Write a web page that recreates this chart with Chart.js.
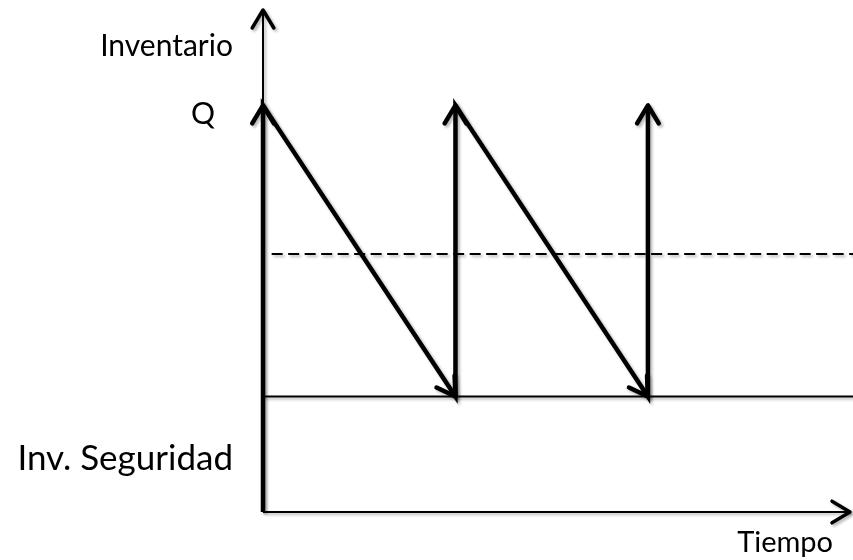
<!DOCTYPE html>
<html>
<head>
<meta charset="utf-8">
<script src="https://cdn.jsdelivr.net/npm/chart.js@4"></script>
<style>
  body { margin: 0; background: #fff; }
</style>
</head>
<body>
<canvas id="inventarioChart" width="853" height="560"></canvas>
<script>
// Niveles de inventario (unidades arbitrarias, eje de 0 a 100)
const nivelQ = 81;
const puntoReorden = 51.4;
const invSeguridad = 23;
const topeEje = 100;

// Tiempo (un ciclo = 1)
const finTiempo = 3.05;
const finLineas = 3.07;

// Diente de sierra: pedido en t=0, 1, 2
const sierraX = [0, 0, 1, 1, 2, 2];
const sierraY = [0, nivelQ, invSeguridad, nivelQ, invSeguridad, nivelQ];

// Textos
const etiquetas = [
    { texto: 'Inventario', x: 233, y: 56, size: 30 },
    { texto: 'Q', x: 215, y: 124, size: 30 },
    { texto: 'Inv. Seguridad', x: 233, y: 470, size: 35 },
    { texto: 'Tiempo', x: 833, y: 552, size: 29 }
];

const puntos = (xs, ys) => xs.map((x, i) => ({ x: x, y: ys[i] }));

const ponerSombra = (ctx) => {
    ctx.shadowColor = 'rgba(0,0,0,0.3)';
    ctx.shadowOffsetX = 2;
    ctx.shadowOffsetY = 2;
    ctx.shadowBlur = 3;
};

// Sombra suave como en el original
const sombraPlugin = {
    id: 'sombra',
    beforeDatasetDraw(chart) {
        chart.ctx.save();
        ponerSombra(chart.ctx);
    },
    afterDatasetDraw(chart) {
        chart.ctx.restore();
    }
};

// Puntas de flecha abiertas en los vértices
const flechasPlugin = {
    id: 'flechas',
    afterDatasetsDraw(chart) {
        const ctx = chart.ctx;
        chart.data.datasets.forEach((ds, i) => {
            if (!ds.flechas) return;
            const pts = chart.getDatasetMeta(i).data;
            const desde = ds.flechas === 'fin' ? pts.length - 1 : 1;
            ctx.save();
            ponerSombra(ctx);
            ctx.strokeStyle = '#000';
            ctx.lineWidth = ds.anchoFlecha || ds.borderWidth;
            ctx.lineCap = 'round';
            ctx.lineJoin = 'round';
            for (let k = desde; k < pts.length; k++) {
                const a = pts[k - 1], b = pts[k];
                const ang = Math.atan2(b.y - a.y, b.x - a.x);
                const len = 21, abre = Math.PI / 5.8;
                ctx.beginPath();
                ctx.moveTo(b.x - len * Math.cos(ang - abre), b.y - len * Math.sin(ang - abre));
                ctx.lineTo(b.x, b.y);
                ctx.lineTo(b.x - len * Math.cos(ang + abre), b.y - len * Math.sin(ang + abre));
                ctx.stroke();
            }
            ctx.restore();
        });
    }
};

const textosPlugin = {
    id: 'textos',
    afterDraw(chart) {
        const ctx = chart.ctx;
        ctx.save();
        ctx.fillStyle = '#000';
        ctx.textBaseline = 'alphabetic';
        ctx.textAlign = 'right';
        etiquetas.forEach(e => {
            ctx.font = e.size + 'px Lato, "Open Sans", sans-serif';
            ctx.fillText(e.texto, e.x, e.y);
        });
        ctx.restore();
    }
};

const linea = (data, extra) => Object.assign({
    data: data,
    borderColor: '#000',
    borderWidth: 2,
    pointRadius: 0,
    showLine: true,
    fill: false,
    tension: 0,
    clip: false
}, extra);

new Chart(document.getElementById('inventarioChart'), {
    type: 'scatter',
    data: {
        datasets: [
            linea(puntos([0, 0], [0, topeEje]), { flechas: 'fin', anchoFlecha: 3.5 }),
            linea(puntos([0, finTiempo], [0, 0]), { flechas: 'fin', anchoFlecha: 3.5 }),
            linea(puntos([0, finLineas], [invSeguridad, invSeguridad])),
            linea(puntos([0.045, finLineas], [puntoReorden, puntoReorden]), { borderDash: [11, 5.5] }),
            linea(puntos(sierraX, sierraY), { borderWidth: 4.5, flechas: 'todas', borderJoinStyle: 'miter' })
        ]
    },
    options: {
        responsive: false,
        animation: false,
        layout: { padding: { left: 263, right: 3, top: 10, bottom: 48 } },
        plugins: {
            legend: { display: false },
            tooltip: { enabled: false }
        },
        scales: {
            x: { type: 'linear', display: false, min: 0, max: finTiempo },
            y: { type: 'linear', display: false, min: 0, max: topeEje }
        }
    },
    plugins: [sombraPlugin, flechasPlugin, textosPlugin]
});
</script>
</body>
</html>
